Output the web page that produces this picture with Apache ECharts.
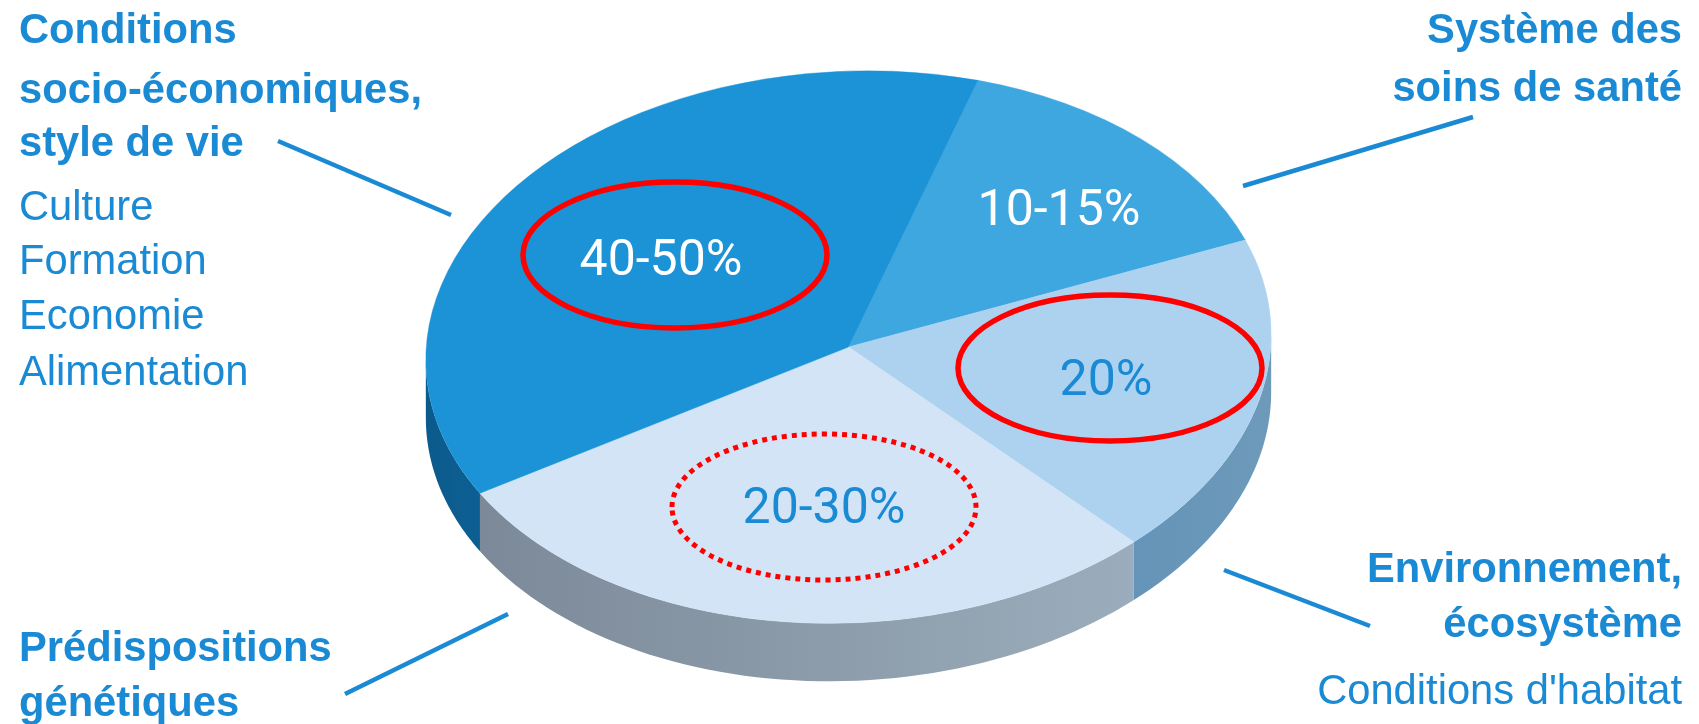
<!DOCTYPE html>
<html><head><meta charset="utf-8">
<style>html,body{margin:0;padding:0;background:#fff}#c{width:1699px;height:724px}</style>
<script src="https://cdn.jsdelivr.net/npm/echarts@6/dist/echarts.min.js"></script>
</head><body><div id="c"></div>
<script>
// Data, clockwise from the top slice boundary
const sliceNames = ["Système des soins de santé", "Environnement, écosystème", "Prédispositions génétiques", "Conditions socio-économiques, style de vie"];
const sliceShares = [14.45, 18.8, 28.65, 38.1];
const sliceLabels = ["10-15%", "20%", "20-30%", "40-50%"];
const sliceTops = ["#3fa7e0", "#add2f0", "#d2e4f5", "#1b93d6"];
const sliceWalls = [["#3fa7e0","#3fa7e0"], ["#6494b8","#6e9aba"], ["#7c8998","#9badbc"], ["#0b5a8c","#0d5f93"]];
const labelColors = ["#ffffff", "#1a8ad4", "#1a8ad4", "#ffffff"];
const labelCentres = [[1059,212],[1106,382],[824,510],[661,262]];
const headingsLeft = [["Conditions",32],["socio-économiques,",92],["style de vie",145],["Prédispositions",650],["génétiques",705]];
const itemsLeft = [["Culture",209],["Formation",263],["Economie",318],["Alimentation",374]];
const headingsRight = [["Système des",32],["soins de santé",90],["Environnement,",571],["écosystème",626]];
const itemsRight = [["Conditions d'habitat",693]];
const leaders = [[278,141,451,215],[1243,186,1473,117],[1224,570,1370,626],[508,614,345,694]];
const rings = [[675,255,false],[1110,368,false],[824,507,true]];

const CX=848.5, CY=347, RA=423, RB=275.8, TILT=3*Math.PI/180, DEPTH=58, START=-70.2*Math.PI/180;
const BLUE="#1a8ad4", FF="'Liberation Sans',Arial,sans-serif";
const total = sliceShares.reduce((a,b)=>a+b,0);
const arcs=[]; let acc=START;
sliceShares.forEach(v=>{const e=acc+v/total*2*Math.PI; arcs.push([acc,e]); acc=e;});
// Canvas-angle parameter of the right-hand silhouette of the tilted ellipse
const SIL=Math.atan((RB*Math.sin(TILT))/(RA*Math.cos(TILT)));

function rim(t){
  const u=RA*Math.cos(t), v=RB*Math.sin(t);
  return [CX+u*Math.cos(TILT)+v*Math.sin(TILT), CY-u*Math.sin(TILT)+v*Math.cos(TILT)];
}
function wall(params, api){
  const i=params.dataIndex; const [a,b]=arcs[i];
  const segs=[];
  for(const k of [-1,0,1]){const lo=Math.max(a,k*2*Math.PI+SIL), hi=Math.min(b,k*2*Math.PI+Math.PI+SIL); if(hi>lo) segs.push([lo,hi]);}
  if(!segs.length) return {type:'group',children:[]};
  const [lo,hi]=segs[0], n=60, top=[], bot=[];
  for(let j=0;j<=n;j++){const p=rim(lo+(hi-lo)*j/n); top.push(p); bot.push([p[0],p[1]+DEPTH]);}
  const c=sliceWalls[i];
  return {type:'polygon',shape:{points:top.concat(bot.reverse())},
    style:{fill:{type:'linear',x:0,y:0,x2:1,y2:0,colorStops:[{offset:0,color:c[0]},{offset:1,color:c[1]}]},stroke:null}};
}
function topFace(params, api){
  const i=params.dataIndex, [a,b]=arcs[i];
  return {type:'sector',x:CX,y:CY,scaleY:RB/RA,rotation:TILT,shape:{cx:0,cy:0,r0:0,r:RA,startAngle:a,endAngle:b,clockwise:true},
    style:{fill:sliceTops[i],stroke:sliceTops[i],lineWidth:0.5}};
}
const txt=(s,x,y,align,bold,size)=>({type:'text',x,y,style:{text:s,fill:BLUE,fontFamily:FF,fontSize:size,fontWeight:bold?'bold':'normal',textAlign:align,textVerticalAlign:'middle'},z:10});
const LX=19, RXT=1682;
const gfx=[];
headingsLeft.forEach(h=>gfx.push(txt(h[0],LX,h[1],'left',true,41.7)));
itemsLeft.forEach(h=>gfx.push(txt(h[0],LX,h[1],'left',false,41.7)));
headingsRight.forEach(h=>gfx.push(txt(h[0],RXT,h[1],'right',true,41.7)));
itemsRight.forEach(h=>gfx.push(txt(h[0],RXT,h[1],'right',false,41.7)));
leaders.forEach(l=>gfx.push({type:'line',shape:{x1:l[0],y1:l[1],x2:l[2],y2:l[3]},style:{stroke:BLUE,lineWidth:4.5},z:5}));
rings.forEach(r=>gfx.push({type:'ellipse',shape:{cx:r[0],cy:r[1],rx:152,ry:73},style:{fill:null,stroke:'#ff0000',lineWidth:r[2]?5:5.5,lineDash:r[2]?[5,5]:null},z:6}));
sliceLabels.forEach((s,i)=>gfx.push({type:'text',x:labelCentres[i][0],y:labelCentres[i][1],z:7,style:{text:s,fill:labelColors[i],fontFamily:"Roboto,sans-serif",fontSize:50,fontWeight:400,textAlign:'center',textVerticalAlign:'middle'}}));

const chart=echarts.init(document.getElementById('c'),null,{renderer:'canvas'});
const rows=sliceShares.map((v,i)=>({name:sliceNames[i],value:v}));
chart.setOption({animation:false,backgroundColor:'#fff',
  series:[
    {type:'custom',coordinateSystem:'none',renderItem:wall,data:rows,silent:true,z:1},
    {type:'custom',coordinateSystem:'none',renderItem:topFace,data:rows,silent:true,z:2}
  ],
  graphic:{elements:gfx}
});
</script></body></html>
